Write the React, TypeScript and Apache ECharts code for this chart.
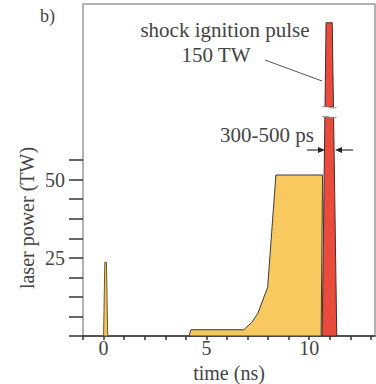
import React, { useEffect, useRef } from 'react';
import * as echarts from 'echarts';

// axis ticks / labels
const timeTicks = [-1, 0, 1, 2, 3, 4, 5, 6, 7, 8, 9, 10, 11, 12, 13];
const timeLabels = [0, 5, 10];
const powerTicks = [0, 6.25, 12.5, 18.75, 25, 31.25, 37.5, 43.75, 50, 56.25];
const powerLabels = [25, 50];

// picket at t = 0
const picketTime = [0.0, 0.06, 0.14, 0.2];
const picketPower = [0, 23.6, 23.6, 0];

// main compression pulse
const mainTime = [4.15, 4.25, 6.82, 7.2, 7.5, 7.98, 8.38, 10.65, 10.58];
const mainPower = [0, 2, 2, 4.3, 7.2, 15.6, 51.5, 51.5, 0];

// shock ignition spike (150 TW)
const shockTime = [10.63, 10.82, 11.12, 11.34];
const shockPower = [0, 150, 150, 0];

const BREAK_START = 70;
const BREAK_END = 123;

type Pt = number[];

function clipY(points: Pt[], yLine: number, keepBelow: boolean): Pt[] {
  const inside = (p: Pt) => (keepBelow ? p[1] >= yLine : p[1] <= yLine);
  const out: Pt[] = [];
  for (let i = 0; i < points.length; i++) {
    const a = points[i];
    const b = points[(i + 1) % points.length];
    const ia = inside(a);
    const ib = inside(b);
    if (ia) out.push(a);
    if (ia !== ib) {
      const t = (yLine - a[1]) / (b[1] - a[1]);
      out.push([a[0] + t * (b[0] - a[0]), yLine]);
    }
  }
  return out;
}

const FONT = '"Liberation Serif", "Times New Roman", serif';
const TEXT = '#444';

function shapeSeries(times: number[], powers: number[], fill: string, stroke: string, z: number, broken: boolean) {
  return {
    type: 'custom',
    z,
    silent: true,
    data: times.map((t, i) => [t, powers[i]]),
    encode: { x: 0, y: 1 },
    renderItem: (params: any, api: any) => {
      if (params.dataIndex !== 0) return null;
      const pts: Pt[] = times.map((t, i) => api.coord([t, powers[i]]));
      if (!broken) {
        return {
          type: 'polygon',
          shape: { points: pts },
          style: { fill, stroke, lineWidth: 1 },
        };
      }
      const yLow = api.coord([0, BREAK_START])[1];
      const yHigh = api.coord([0, BREAK_END])[1];
      const lower = clipY(pts, yLow, true);
      const upper = clipY(pts, yHigh, false);
      const children: any[] = [
        { type: 'polygon', shape: { points: lower }, style: { fill, stroke, lineWidth: 1 } },
        { type: 'polygon', shape: { points: upper }, style: { fill, stroke, lineWidth: 1 } },
      ];
      const edge = (poly: Pt[], y: number) => {
        const xs = poly.filter((p) => Math.abs(p[1] - y) < 0.01).map((p) => p[0]);
        return [Math.min(...xs), Math.max(...xs)];
      };
      [[lower, yLow], [upper, yHigh]].forEach(([poly, y]: any) => {
        const [xl, xr] = edge(poly, y);
        const x1 = xl - 3;
        const x2 = xr + 3;
        const w = x2 - x1;
        children.push({
          type: 'polygon',
          shape: { points: [[xl, y], [xr, y], [xr, y + (y === yLow ? -1 : 1)], [xl, y + (y === yLow ? -1 : 1)]] },
          style: { fill: '#fff' },
        });
        children.push({
          type: 'bezierCurve',
          shape: {
            x1, y1: y, cpx1: x1 + w / 3, cpy1: y - 3, cpx2: x1 + (2 * w) / 3, cpy2: y + 3, x2, y2: y,
          },
          style: { stroke: '#888', lineWidth: 1, fill: 'none' },
        });
      });
      return { type: 'group', children };
    },
  };
}

export default function App() {
  const ref = useRef<HTMLDivElement>(null);
  useEffect(() => {
    const chart = echarts.init(ref.current!, null, { renderer: 'svg' });
    const option: any = {
      animation: false,
      backgroundColor: '#fff',
      grid: {
        left: 83,
        top: 4,
        right: 1,
        bottom: 48,
        show: true,
        borderColor: '#999',
        borderWidth: 1.5,
        outerBoundsMode: 'none',
        containLabel: false,
      },
      xAxis: {
        type: 'value',
        min: -1,
        max: 13.2,
        splitLine: { show: false },
        axisLine: { show: true, onZero: false, lineStyle: { color: '#333', width: 1.5 } },
        axisTick: { show: true, customValues: timeTicks, length: 4, lineStyle: { color: '#333', width: 1.5 } },
        axisLabel: { customValues: timeLabels, margin: 2, fontSize: 20, fontFamily: FONT, color: TEXT },
        name: 'time (ns)',
        nameLocation: 'middle',
        nameGap: 20,
        nameTextStyle: { fontSize: 20, fontFamily: FONT, color: TEXT },
      },
      yAxis: {
        type: 'value',
        min: 0,
        max: 156,
        breaks: [{ start: BREAK_START, end: BREAK_END, gap: 3.2 }],
        breakArea: { show: false },
        splitLine: { show: false },
        axisLine: { show: false, onZero: false },
        axisTick: { show: true, customValues: powerTicks, length: 14, lineStyle: { color: '#333', width: 1.5 } },
        axisLabel: { customValues: powerLabels, margin: 18, fontSize: 20, fontFamily: FONT, color: TEXT },
      },
      series: [
        shapeSeries(picketTime, picketPower, '#F3C35A', '#6b5a2a', 3, false),
        shapeSeries(mainTime, mainPower, '#F7C95E', '#3a3a3a', 3, false),
        shapeSeries(shockTime, shockPower, '#E94B3C', '#4a2a25', 4, true),
      ],
      graphic: [
        { type: 'text', x: 40, y: 16, style: { text: 'b)', font: `18px ${FONT}`, fill: TEXT, align: 'left', verticalAlign: 'middle' } },
        {
          type: 'text', x: 27, y: 218, rotation: Math.PI / 2,
          style: { text: 'laser power (TW)', font: `20px ${FONT}`, fill: TEXT, align: 'center', verticalAlign: 'middle' },
        },
        { type: 'text', x: 225, y: 30, style: { text: 'shock ignition pulse', font: `21px ${FONT}`, fill: TEXT, align: 'center', verticalAlign: 'middle' } },
        { type: 'text', x: 216, y: 55, style: { text: '150 TW', font: `21px ${FONT}`, fill: TEXT, align: 'center', verticalAlign: 'middle' } },
        { type: 'text', x: 267, y: 135, style: { text: '300-500 ps', font: `21px ${FONT}`, fill: TEXT, align: 'center', verticalAlign: 'middle' } },
        { type: 'line', shape: { x1: 265, y1: 60, x2: 322, y2: 81 }, style: { stroke: '#555', lineWidth: 1 }, z: 10 },
        { type: 'line', shape: { x1: 307, y1: 150, x2: 320, y2: 150 }, style: { stroke: '#333', lineWidth: 1.2 }, z: 10 },
        { type: 'polygon', shape: { points: [[318, 147], [325, 150], [318, 153]] }, style: { fill: '#222' }, z: 10 },
        { type: 'line', shape: { x1: 340, y1: 150, x2: 353, y2: 150 }, style: { stroke: '#333', lineWidth: 1.2 }, z: 10 },
        { type: 'polygon', shape: { points: [[342, 147], [335, 150], [342, 153]] }, style: { fill: '#222' }, z: 10 },
      ],
    };
    chart.setOption(option);
    return () => chart.dispose();
  }, []);
  return <div ref={ref} style={{ position: 'fixed', left: 0, top: 0, width: 376, height: 384 }} />;
}
